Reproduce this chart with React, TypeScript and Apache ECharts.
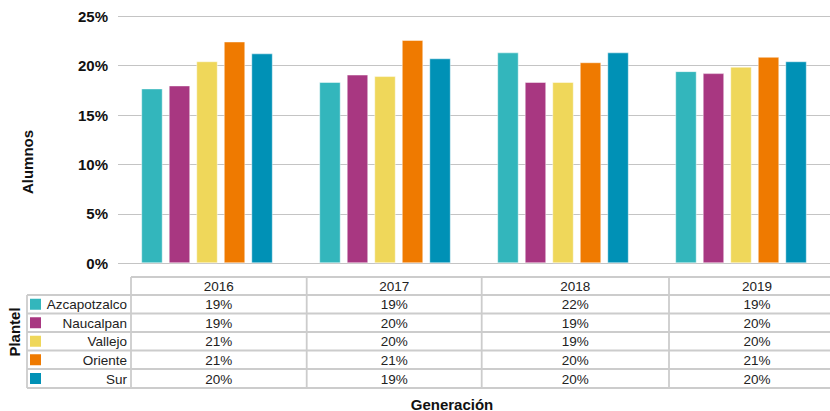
import React, { useEffect, useRef } from "react";
import * as echarts from "echarts";

const categories = ["2016", "2017", "2018", "2019"];
const plantels = ["Azcapotzalco", "Naucalpan", "Vallejo", "Oriente", "Sur"];
const colors = ["#33b6bc", "#a83781", "#efd75a", "#ef7a00", "#0091b6"];

// bar heights (%)
const azcapotzalco = [17.7, 18.35, 21.35, 19.45];
const naucalpan = [18.0, 19.1, 18.35, 19.25];
const vallejo = [20.45, 18.95, 18.35, 19.9];
const oriente = [22.45, 22.6, 20.35, 20.9];
const sur = [21.25, 20.75, 21.35, 20.45];

// values printed in the data table
const tableAzcapotzalco = [19, 19, 22, 19];
const tableNaucalpan = [19, 20, 19, 20];
const tableVallejo = [21, 20, 19, 20];
const tableOriente = [21, 21, 20, 21];
const tableSur = [20, 19, 20, 20];

const yMin = 0;
const yMax = 25;
const yInterval = 5;

const FONT = "'Liberation Sans', Arial, Helvetica, sans-serif";

export default function App() {
  const ref = useRef<HTMLDivElement>(null);

  useEffect(() => {
    if (!ref.current) return;
    const chart = echarts.init(ref.current, undefined, { renderer: "svg" });
    const seriesValues = [azcapotzalco, naucalpan, vallejo, oriente, sur];
    const tableValues = [tableAzcapotzalco, tableNaucalpan, tableVallejo, tableOriente, tableSur];

    // table layout
    const colEdges = [131, 306.7, 481.7, 669, 845];
    const rowEdges = [277, 295, 313.5, 332, 350.5, 369, 388];
    const legendLeft = 27;
    const lineStyle = { stroke: "#cccccc", lineWidth: 1.8 };
    const graphics: any[] = [];

    // horizontal lines
    rowEdges.forEach((y, i) => {
      graphics.push({
        type: "line",
        shape: { x1: i === 0 ? colEdges[0] : legendLeft, y1: y, x2: colEdges[colEdges.length - 1], y2: y },
        style: lineStyle,
        silent: true,
      });
    });
    // vertical lines
    graphics.push({
      type: "line",
      shape: { x1: legendLeft, y1: rowEdges[1], x2: legendLeft, y2: rowEdges[rowEdges.length - 1] },
      style: lineStyle,
    });
    colEdges.forEach((x) => {
      graphics.push({
        type: "line",
        shape: { x1: x, y1: rowEdges[0], x2: x, y2: rowEdges[rowEdges.length - 1] },
        style: lineStyle,
      });
    });
    // header
    categories.forEach((c, j) => {
      graphics.push({
        type: "text",
        x: (colEdges[j] + colEdges[j + 1]) / 2,
        y: (rowEdges[0] + rowEdges[1]) / 2 + 0.5,
        style: { text: c, fill: "#222", font: `13.5px ${FONT}`, textAlign: "center", textVerticalAlign: "middle" },
      });
    });
    // rows
    plantels.forEach((p, i) => {
      const cy = (rowEdges[i + 1] + rowEdges[i + 2]) / 2 + 0.5;
      graphics.push({
        type: "rect",
        shape: { x: 30, y: cy - 6, width: 11, height: 11 },
        style: { fill: colors[i] },
      });
      graphics.push({
        type: "text",
        x: 127,
        y: cy,
        style: { text: p, fill: "#222", font: `13.5px ${FONT}`, textAlign: "right", textVerticalAlign: "middle" },
      });
      tableValues[i].forEach((v, j) => {
        graphics.push({
          type: "text",
          x: (colEdges[j] + colEdges[j + 1]) / 2,
          y: cy,
          style: { text: `${v}%`, fill: "#222", font: `13.5px ${FONT}`, textAlign: "center", textVerticalAlign: "middle" },
        });
      });
    });
    // titles
    graphics.push({
      type: "text",
      x: 27,
      y: 162,
      rotation: Math.PI / 2,
      style: { text: "Alumnos", fill: "#111", font: `bold 15px ${FONT}`, textAlign: "center", textVerticalAlign: "middle" },
    });
    graphics.push({
      type: "text",
      x: 14.5,
      y: 332,
      rotation: Math.PI / 2,
      style: { text: "Plantel", fill: "#111", font: `bold 15px ${FONT}`, textAlign: "center", textVerticalAlign: "middle" },
    });
    graphics.push({
      type: "text",
      x: 452,
      y: 404,
      style: { text: "Generación", fill: "#111", font: `bold 15px ${FONT}`, textAlign: "center", textVerticalAlign: "middle" },
    });

    chart.setOption({
      animation: false,
      backgroundColor: "#ffffff",
      grid: { left: 118, top: 16.3, width: 717, height: 247, containLabel: false },
      xAxis: {
        type: "category",
        data: categories,
        axisLine: { show: false },
        axisTick: { show: false },
        axisLabel: { show: false },
      },
      yAxis: {
        type: "value",
        min: yMin,
        max: yMax,
        interval: yInterval,
        axisLine: { show: false },
        axisTick: { show: false },
        axisLabel: {
          formatter: "{value}%",
          color: "#111",
          fontFamily: FONT,
          fontWeight: "bold",
          fontSize: 15,
          margin: 10,
        },
        splitLine: { lineStyle: { color: "#c4c4c4", width: 1.2 } },
      },
      series: plantels.map((p, i) => ({
        name: p,
        type: "bar",
        data: seriesValues[i],
        barWidth: 21.5,
        barGap: "28%",
        itemStyle: { color: colors[i], borderColor: "rgba(255,255,255,0.45)", borderWidth: 1 },
      })),
      graphic: graphics,
    });

    return () => chart.dispose();
  }, []);

  return (
    <div
      ref={ref}
      style={{ position: "absolute", left: 0, top: 0, width: 830, height: 411 }}
    />
  );
}
